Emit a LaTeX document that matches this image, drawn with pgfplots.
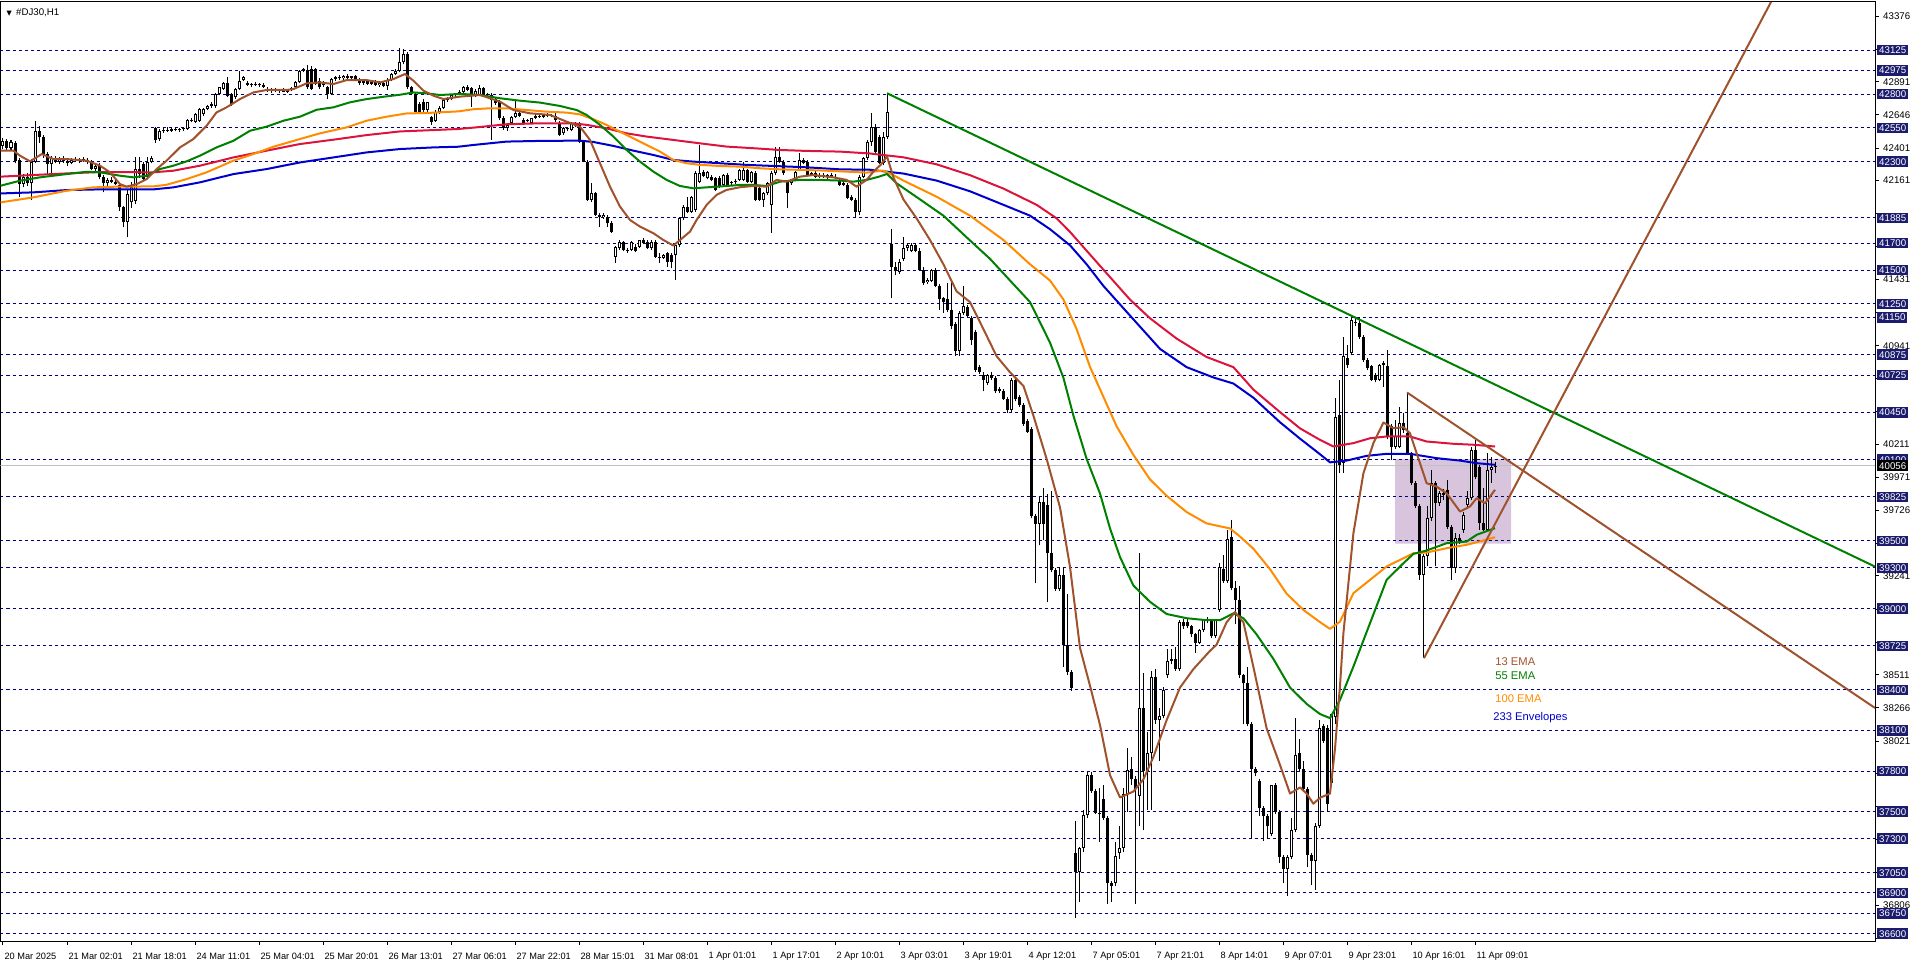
\documentclass[border=0pt]{standalone}
\usepackage{pgfplots}
\pgfplotsset{compat=1.18}
\usepackage{pgfplotstable}
\usepackage{fontspec}
\setmainfont{Liberation Sans}
\newfontfamily\symfont{DejaVu Sans}
\definecolor{navyline}{HTML}{000080}
\definecolor{navybox}{HTML}{1C1C6E}
\definecolor{emaBrown}{HTML}{A0522D}
\definecolor{emaGreen}{HTML}{008000}
\definecolor{emaOrange}{HTML}{FF8C00}
\definecolor{envRed}{HTML}{DC143C}
\definecolor{envBlue}{HTML}{0000CD}
\definecolor{rectFill}{HTML}{D8C4DC}
\definecolor{priceGray}{HTML}{C0C0C0}
\tikzset{boxlab/.style={anchor=west, xshift=1pt, fill=navybox, text=white, font=\fontsize{4.85}{5.5}\selectfont, inner xsep=0.9pt, inner ysep=0.9pt, text height=3.5pt, text depth=0pt}}
\pgfplotsset{candlebar/.style={only marks, mark=*, mark size=0pt, mark options={draw=none, fill=none}, forget plot}}

\pgfplotstableread{
i o h l c
0 42420 42475 42395 42455
1 42455 42470 42380 42400
2 42400 42460 42390 42445
3 42440 42450 42290 42308
4 42310 42330 42037 42135
5 42135 42210 42110 42190
6 42190 42220 42120 42140
7 42140 42320 42020 42300
8 42300 42603 42290 42530
9 42530 42566 42440 42480
10 42480 42500 42330 42357
11 42357 42370 42209 42283
12 42283 42345 42190 42330
13 42330 42345 42290 42300
14 42300 42335 42280 42320
15 42320 42340 42290 42305
16 42305 42330 42270 42290
17 42290 42325 42280 42315
18 42315 42335 42295 42310
19 42310 42330 42290 42320
20 42320 42335 42300 42310
21 42310 42330 42280 42295
22 42295 42310 42240 42246
23 42246 42290 42230 42270
24 42270 42290 42170 42185
25 42185 42200 42074 42140
26 42140 42180 42120 42165
27 42165 42185 42140 42150
28 42150 42175 42130 42135
29 42130 42140 41940 41963
30 41963 41975 41815 41852
31 41852 42090 41742 42062
32 42000 42150 41960 42111
33 42012 42332 41990 42246
34 42250 42332 42180 42210
35 42283 42300 42160 42172
36 42185 42332 42170 42295
37 42300 42345 42290 42330
38 42549 42560 42440 42463
39 42468 42540 42455 42524
40 42524 42550 42515 42535
41 42535 42555 42520 42530
42 42530 42550 42520 42542
43 42542 42555 42525 42535
44 42535 42550 42520 42540
45 42540 42560 42530 42545
46 42542 42615 42535 42608
47 42608 42625 42590 42600
48 42595 42660 42585 42652
49 42603 42700 42595 42690
50 42652 42700 42640 42689
51 42690 42720 42680 42714
52 42714 42740 42700 42726
53 42714 42805 42700 42800
54 42800 42855 42790 42849
55 42837 42890 42830 42881
56 42881 42923 42780 42788
57 42800 42810 42715 42726
58 42775 42845 42765 42837
59 42837 42967 42830 42899
60 42903 42930 42895 42923
61 42880 42895 42860 42870
62 42870 42885 42855 42875
63 42875 42890 42860 42865
64 42865 42885 42850 42870
65 42870 42880 42845 42855
66 42835 42850 42815 42825
67 42825 42845 42810 42830
68 42830 42845 42815 42820
69 42820 42840 42805 42830
70 42830 42845 42812 42818
71 42818 42840 42808 42830
72 42830 42850 42820 42845
73 42849 42895 42840 42886
74 42886 42975 42880 42967
75 42972 42995 42960 42985
76 42977 43017 42840 42849
77 42985 43005 42830 42837
78 42985 42995 42865 42874
79 42900 42915 42840 42849
80 42880 42895 42855 42870
81 42849 42860 42763 42800
82 42800 42915 42790 42910
83 42910 42935 42900 42925
84 42925 42940 42905 42915
85 42915 42940 42905 42935
86 42935 42945 42910 42920
87 42920 42935 42905 42930
88 42930 42940 42895 42905
89 42905 42915 42870 42880
90 42880 42905 42870 42895
91 42895 42905 42870 42875
92 42875 42900 42865 42890
93 42890 42905 42860 42870
94 42870 42895 42855 42885
95 42885 42900 42850 42860
96 42860 42915 42830 42905
97 42905 42955 42895 42948
98 42948 42985 42940 42972
99 42972 43140 42960 43034
100 43034 43132 43020 43095
101 43095 43110 42840 42849
102 42849 42860 42790 42800
103 42800 42810 42650 42665
104 42726 42740 42650 42665
105 42740 42760 42660 42680
106 42680 42745 42670 42740
107 42628 42640 42574 42591
108 42603 42680 42595 42665
109 42665 42710 42650 42700
110 42700 42760 42690 42756
111 42756 42780 42740 42765
112 42765 42800 42755 42790
113 42790 42810 42770 42800
114 42800 42830 42790 42818
115 42818 42862 42805 42855
116 42855 42867 42820 42830
117 42842 42850 42707 42793
118 42793 42835 42780 42825
119 42793 42867 42785 42842
120 42842 42850 42785 42793
121 42793 42810 42770 42800
122 42793 42805 42461 42756
123 42760 42775 42720 42735
124 42744 42755 42610 42621
125 42621 42635 42535 42547
126 42547 42580 42530 42572
127 42584 42640 42575 42633
128 42633 42756 42625 42658
129 42658 42670 42630 42640
130 42609 42620 42575 42584
131 42600 42615 42590 42608
132 42584 42625 42578 42621
133 42625 42650 42615 42640
134 42640 42655 42625 42630
135 42630 42650 42620 42645
136 42645 42660 42630 42640
137 42640 42655 42628 42635
138 42635 42660 42596 42610
139 42584 42600 42490 42498
140 42510 42555 42500 42547
141 42547 42560 42530 42540
142 42535 42590 42530 42584
143 42584 42595 42555 42565
144 42572 42590 42440 42449
145 42449 42460 42295 42301
146 42301 42310 42010 42018
147 42018 42141 42005 42067
148 42067 42075 41900 41907
149 41907 41925 41821 41895
150 41895 41920 41880 41910
151 41895 41905 41821 41846
152 41846 41860 41775 41784
153 41599 41680 41555 41673
154 41661 41720 41650 41710
155 41705 41715 41640 41649
156 41649 41665 41625 41640
157 41649 41715 41640 41710
158 41673 41690 41630 41640
159 41673 41725 41665 41722
160 41722 41735 41690 41700
161 41710 41720 41655 41661
162 41661 41720 41650 41710
163 41710 41720 41590 41599
164 41600 41625 41555 41590
165 41590 41620 41580 41610
166 41624 41635 41525 41562
167 41612 41625 41513 41562
168 41612 41690 41427 41685
169 41685 41890 41670 41882
170 41882 41980 41870 41969
171 41969 42043 41920 41932
172 41932 42050 41925 42043
173 41944 42230 41930 42215
174 42153 42424 42140 42215
175 42227 42240 42185 42195
176 42178 42235 42170 42227
177 42190 42205 42155 42166
178 42178 42190 42085 42092
179 42178 42195 42105 42116
180 42129 42210 42120 42202
181 42202 42215 42120 42129
182 42140 42160 42120 42150
183 42150 42175 42135 42160
184 42166 42245 42155 42239
185 42166 42301 42155 42239
186 42239 42250 42145 42153
187 42153 42235 42140 42227
188 42215 42230 42010 42018
189 42104 42115 42010 42018
190 42018 42075 41969 42067
191 42067 42150 42055 42141
192 41981 42230 41777 42215
193 42215 42412 42200 42338
194 42338 42412 42290 42301
195 42301 42315 42205 42215
196 42153 42165 41956 42067
197 42141 42175 42130 42166
198 42166 42235 42155 42227
199 42239 42362 42230 42313
200 42313 42325 42280 42289
201 42301 42310 42195 42202
202 42202 42225 42195 42215
203 42215 42230 42180 42190
204 42190 42215 42180 42205
205 42205 42220 42180 42185
206 42185 42210 42175 42200
207 42200 42215 42180 42190
208 42190 42210 42175 42180
209 42166 42180 42120 42129
210 42141 42155 42120 42129
211 42129 42140 42025 42030
212 42043 42055 42010 42018
213 42018 42030 41882 41932
214 41932 42200 41905 42190
215 42190 42335 42180 42326
216 42326 42460 42315 42449
217 42449 42658 42420 42559
218 42559 42580 42360 42375
219 42486 42500 42280 42289
220 42289 42520 42275 42486
221 42486 42806 42470 42670
222 41691 41802 41291 41523
223 41523 41560 41460 41490
224 41483 41580 41470 41563
225 41583 41742 41570 41663
226 41663 41700 41640 41683
227 41643 41700 41630 41683
228 41683 41700 41630 41643
229 41643 41660 41490 41503
230 41503 41520 41390 41403
231 41415 41440 41400 41430
232 41423 41510 41410 41503
233 41503 41515 41375 41383
234 41383 41395 41204 41283
235 41291 41300 41184 41263
236 41283 41403 41190 41204
237 41204 41423 41064 41084
238 41104 41115 40864 40904
239 40904 41200 40864 41184
240 41184 41383 41170 41232
241 41224 41240 41150 41164
242 41144 41160 40944 40984
243 41044 41060 40745 40765
244 40785 40800 40735 40745
245 40725 40745 40605 40685
246 40665 40735 40650 40725
247 40725 40745 40690 40705
248 40705 40715 40595 40605
249 40625 40640 40590 40605
250 40605 40620 40540 40545
251 40545 40560 40445 40465
252 40465 40700 40450 40685
253 40685 40700 40530 40545
254 40565 40580 40490 40505
255 40505 40520 40350 40366
256 40386 40400 40300 40306
257 40326 40340 39667 39687
258 39687 39700 39188 39627
259 39627 39827 39467 39787
260 39787 39887 39507 39627
261 39767 39847 39048 39408
262 39408 39867 39270 39288
263 39288 39300 39130 39148
264 39148 39308 39130 39248
265 39248 39308 38570 38729
266 38729 39108 38510 38530
267 38530 38545 38390 38410
268 37193 37432 36714 37053
269 37053 37240 36834 37233
270 37233 37512 37200 37472
271 37472 37791 37450 37771
272 37771 37791 37640 37652
273 37652 37665 37480 37492
274 37492 37672 37273 37480
275 37592 37694 37440 37452
276 37452 37465 36820 36973
277 36973 36990 36834 36953
278 36973 37273 36950 37173
279 37193 37392 37150 37233
280 37233 37672 37200 37632
281 37632 37971 37500 37811
282 37814 37905 37700 37739
283 37739 37760 36820 37664
284 37619 39412 37392 38266
285 38266 38523 37362 37799
286 37799 38086 37513 37935
287 37935 38538 37513 38492
288 38492 38553 38150 38176
289 38176 38266 37875 38206
290 38206 38420 38190 38402
291 38507 38703 38490 38613
292 38613 38703 38590 38628
293 38628 38718 38540 38553
294 38553 38915 38540 38899
295 38899 38920 38850 38869
296 38899 38925 38855 38869
297 38869 38880 38790 38809
298 38809 38820 38673 38749
299 38749 38850 38740 38839
300 38839 38925 38830 38914
301 38914 38935 38890 38925
302 38914 38925 38780 38794
303 38794 38920 38780 38914
304 38990 39336 38975 39306
305 39291 39397 39190 39201
306 39201 39577 39190 39517
307 39532 39653 39140 39155
308 39155 39201 38884 39065
309 39065 39170 38490 38507
310 38507 38520 38146 38447
311 38447 38568 38130 38146
312 38146 38160 37302 37814
313 37814 37830 37760 37784
314 37724 37740 37468 37528
315 37528 37545 37287 37468
316 37468 37480 37302 37392
317 37332 37694 37320 37694
318 37694 37710 37480 37498
319 37498 37510 37121 37166
320 37166 37180 36971 37076
321 37076 37180 36880 37166
322 37166 37453 37150 37362
323 37362 38191 37350 37920
324 37935 38040 37800 37814
325 37814 37875 37650 37664
326 37664 37680 37091 37181
327 37181 37195 36956 37136
328 37136 37420 36925 37392
329 37392 38176 37380 38116
330 38131 38150 38010 38025
331 38116 38140 37500 37558
332 37709 38221 37680 38221
333 38203 40554 38150 40418
334 40431 40689 40000 40061
335 40074 41009 40000 40862
336 40849 40948 40780 40800
337 40886 41145 40870 41132
338 41120 41157 41090 41108
339 41108 41145 40990 41009
340 41009 41020 40820 40837
341 40837 40850 40760 40775
342 40788 40800 40680 40689
343 40726 40740 40670 40689
344 40689 40810 40680 40800
345 40800 40830 40640 40812
346 40788 40911 40250 40271
347 40345 40360 40098 40197
348 40197 40394 40180 40271
349 40197 40492 40185 40369
350 40369 40443 40300 40320
351 40295 40596 40140 40148
352 40148 40160 39910 39926
353 39926 39940 39740 39754
354 39754 39770 39212 39249
355 39249 39400 38634 39385
356 39385 39754 39311 39668
357 39668 40025 39650 39926
358 39926 39940 39311 39778
359 39778 39870 39760 39852
360 39852 39880 39800 39840
361 39877 39950 39590 39606
362 39606 39620 39212 39298
363 39298 39557 39262 39520
364 39520 39550 39480 39495
365 39581 39710 39560 39692
366 39766 39865 39750 39815
367 39815 40197 39800 40172
368 40172 40246 39960 39975
369 40049 40060 39582 39631
370 39631 39890 39570 39582
371 39582 40148 39570 40025
372 40025 40123 39930 40049
373 40049 40086 40000 40056
}\candles

\begin{document}
\begin{tikzpicture}
\useasboundingbox (0,0) rectangle (958pt,481.5pt);
\begin{axis}[
  at={(0.25pt,11pt)}, anchor=south west,
  scale only axis, width=937.25pt, height=469.5pt,
  xmin=-0.625, xmax=468, ymin=36545, ymax=43480,
  clip mode=individual,
  axis line style={black, line width=0.5pt},
  tick align=outside, major tick length=2pt,
  tick style={black, line width=0.5pt},
  xtick pos=bottom, ytick pos=right, yticklabel pos=right,
  scaled y ticks=false, scaled x ticks=false,
  xtick={0,16,...,368},
  xticklabels={20 Mar 2025,21 Mar 02:01,21 Mar 18:01,24 Mar 11:01,25 Mar 04:01,25 Mar 20:01,26 Mar 13:01,27 Mar 06:01,27 Mar 22:01,28 Mar 15:01,31 Mar 08:01,1 Apr 01:01,1 Apr 17:01,2 Apr 10:01,3 Apr 03:01,3 Apr 19:01,4 Apr 12:01,7 Apr 05:01,7 Apr 21:01,8 Apr 14:01,9 Apr 07:01,9 Apr 23:01,10 Apr 16:01,11 Apr 09:01},
  x tick label style={font=\fontsize{4.6}{5.5}\selectfont, anchor=west, inner sep=0pt, xshift=0.6pt, yshift=-5.5pt},
  ytick={36561,36806,37051,37291,37536,37781,38021,38266,38511,38751,38996,39241,39481,39726,39971,40211,40456,40701,40941,41186,41431,41671,41916,42161,42401,42646,42891,43131,43376},
  yticklabels={,36806,,,,,38021,38266,38511,,,39241,,39726,39971,40211,,,40941,,41431,,,42161,42401,42646,42891,,43376},
  y tick label style={font=\fontsize{4.85}{5.5}\selectfont, anchor=west, inner sep=0pt, xshift=1.9pt},
]
% analysis rectangle
\addplot[fill=rectFill, draw=none, forget plot] coordinates {(348,39480) (377,39480) (377,40103) (348,40103) (348,39480)};
% current price line
\addplot[priceGray, line width=0.5pt, forget plot] coordinates {(-0.625,40056) (468,40056)};
% horizontal levels
\pgfplotsinvokeforeach{43125,42975,42800,42550,42300,41885,41700,41500,41250,41150,40875,40725,40450,40100,39825,39500,39300,39000,38725,38400,38100,37800,37500,37300,37050,36900,36750,36600}{
  \addplot[navyline, line width=0.5pt, dash pattern=on 1.5pt off 1.5pt, forget plot] coordinates {(-0.625,#1) (468,#1)};
}
% candles: wicks
\addplot[candlebar,
  error bars/.cd, y dir=plus, y explicit, error mark=none,
  error bar style={line width=0.5pt, black}]
  table[x=i, y=l, y error expr=\thisrow{h}-\thisrow{l}] {\candles};
% candles: bodies
\addplot[candlebar,
  error bars/.cd, y dir=plus, y explicit, error mark=none,
  error bar style={line width=1.5pt, black}]
  table[x=i, y expr={min(\thisrow{o},\thisrow{c})}, y error expr={max(abs(\thisrow{c}-\thisrow{o}),7)}] {\candles};
% candles: bullish inner white
\addplot[candlebar, restrict y to domain=30000:50000,
  error bars/.cd, y dir=plus, y explicit, error mark=none,
  error bar style={line width=0.5pt, white}]
  table[x=i, y expr={(\thisrow{c}-\thisrow{o}>15) ? (\thisrow{o}+7.4) : 0}, y error expr={\thisrow{c}-\thisrow{o}-14.8}] {\candles};
% 233 envelopes
\addplot[envRed, line width=1pt, line join=round] coordinates {(-0.6,42190) (7.6,42202) (15.9,42214) (24.25,42224) (37.6,42222) (42.6,42234) (49.25,42271) (57.6,42332) (65.9,42382) (74.25,42431) (82.6,42463) (90.9,42497) (99.25,42524) (107.6,42534) (113.8,42542) (117.6,42552) (125.9,42577) (134.25,42584) (142.6,42584) (146,42572) (150.9,42547) (155.9,42510) (160.9,42486) (167.6,42461) (174.25,42436) (180.9,42412) (187.6,42400) (194.25,42387) (200.9,42380) (209.25,42375) (216.75,42361) (225.1,42333) (233.4,42281) (241.75,42201) (250.1,42102) (258.4,41982) (263.4,41882) (266.75,41782) (270.9,41643) (275.1,41503) (281.75,41282) (286.75,41144) (293.4,40994) (300.9,40858) (307.6,40783) (312.6,40617) (319.25,40451) (324.25,40331) (329.25,40246) (332.6,40197) (337.6,40222) (341.75,40258) (345.9,40271) (351.75,40271) (355.9,40234) (362.6,40217) (367.6,40210) (373,40197)};
\addplot[envBlue, line width=1pt, line join=round] coordinates {(-0.6,42066) (7.6,42074) (15.9,42091) (24.25,42096) (37.6,42096) (42.6,42111) (49.25,42148) (57.6,42209) (65.9,42246) (74.25,42295) (82.6,42332) (90.9,42369) (99.25,42394) (107.6,42406) (113.8,42411) (117.6,42424) (125.9,42449) (134.25,42454) (144.25,42456) (147.6,42446) (152.6,42417) (157.6,42382) (162.6,42350) (167.6,42313) (172.6,42301) (179.25,42289) (185.9,42277) (192.6,42269) (200.9,42259) (209.25,42244) (216.75,42241) (225.1,42213) (233.4,42161) (241.75,42082) (250.1,41982) (256.75,41902) (261.75,41802) (266.75,41683) (270.9,41543) (275.1,41383) (281.75,41164) (289.25,40918) (295.9,40783) (302.6,40707) (307.6,40662) (312.6,40557) (319.25,40376) (324.25,40255) (329.25,40140) (331.75,40080) (335.9,40093) (340.9,40128) (345.9,40143) (351.75,40143) (358.4,40111) (364.25,40093) (368.4,40074) (373,40062)};
% 100 EMA
\addplot[emaOrange, line width=1pt, line join=round] coordinates {(-0.6,42000) (7.6,42037) (15.9,42086) (22.6,42111) (28.4,42116) (37.6,42118) (40.9,42130) (45.9,42172) (50.9,42222) (57.6,42308) (62.6,42357) (67.6,42411) (74.25,42468) (79.25,42510) (85.9,42554) (90.9,42603) (95.9,42633) (100.9,42657) (105.9,42660) (113.8,42672) (117.6,42688) (121.75,42695) (125.9,42695) (130.9,42682) (135.9,42670) (140.9,42663) (144.25,42650) (147.6,42614) (150.9,42572) (154.25,42522) (157.6,42473) (160.9,42424) (164.25,42375) (167.6,42313) (170.9,42289) (174.25,42277) (179.25,42269) (184.25,42264) (189.25,42252) (194.25,42244) (200.9,42239) (205.9,42234) (210.9,42227) (215.9,42220) (220,42235) (222.6,42201) (225.1,42161) (233.4,42042) (241.75,41902) (250.1,41722) (256.75,41543) (261.75,41423) (265.1,41283) (268.4,41064) (271.75,40785) (274.25,40620) (278.4,40346) (282.6,40135) (286.75,39954) (290.9,39833) (295.9,39713) (300.9,39629) (306.75,39592) (309.25,39532) (312.6,39442) (316.75,39291) (320.9,39110) (325.1,38990) (329.25,38900) (331.75,38850) (334.25,38904) (337.6,39114) (341.75,39212) (345.9,39311) (350.1,39372) (352.6,39409) (355.9,39414) (360.9,39446) (365.9,39471) (370.1,39503) (373,39527)};
% 55 EMA
\addplot[emaGreen, line width=1pt, line join=round] coordinates {(-0.6,42123) (4.25,42160) (9.25,42185) (15.9,42209) (20.9,42226) (24.25,42222) (29.25,42197) (32.6,42185) (35.9,42197) (39.25,42246) (42.6,42271) (45.9,42303) (49.25,42345) (53.4,42406) (57.6,42455) (61.75,42529) (65.9,42559) (70.1,42603) (74.25,42633) (78.4,42684) (82.6,42702) (86.75,42739) (90.9,42763) (95.1,42780) (99.25,42795) (102.6,42812) (105.9,42805) (109.25,42793) (114.25,42801) (119.25,42793) (124.25,42769) (129.25,42751) (134.25,42737) (139.25,42712) (143.4,42682) (145.9,42646) (149.25,42572) (152.6,42486) (155.9,42387) (159.25,42301) (162.6,42227) (165.9,42166) (169.25,42121) (172.6,42104) (175.9,42111) (180.9,42121) (184.25,42129) (187.6,42129) (190.9,42121) (194.25,42153) (199.25,42166) (204.25,42166) (209.25,42161) (212.6,42153) (215.9,42166) (219,42190) (221,42210) (223.4,42141) (229.25,42022) (235.1,41902) (240.9,41742) (246.75,41583) (251.75,41423) (256.75,41264) (261.75,40964) (265.1,40705) (267.6,40425) (270.9,40106) (274.25,39850) (276.75,39592) (279.25,39381) (282.6,39170) (286.75,39050) (290.9,38960) (295.9,38929) (300.9,38914) (304.25,38914) (307.6,38965) (310.1,38929) (313.4,38809) (317.6,38628) (321.75,38417) (325.9,38296) (329.25,38221) (331.75,38191) (334.25,38326) (337.6,38572) (341.75,38892) (345.9,39212) (350.1,39335) (352.6,39404) (355.9,39429) (360.9,39483) (365.9,39495) (368.4,39545) (373,39594)};
% 13 EMA
\addplot[emaBrown, line width=1pt, line join=round] coordinates {(-0.6,42382) (2.6,42382) (4.25,42345) (6.75,42303) (9.7,42357) (12.6,42320) (15.9,42320) (20.9,42308) (24.25,42271) (26.75,42222) (29.25,42135) (30.9,42116) (33.4,42135) (35.9,42172) (38.4,42246) (40.9,42308) (44.25,42406) (47.6,42468) (50.9,42566) (53.4,42665) (55.9,42702) (59.25,42763) (62.6,42812) (65.9,42830) (70.9,42830) (72.6,42837) (75.9,42879) (79.25,42886) (82.6,42874) (85.9,42903) (90.9,42903) (94.25,42886) (97.6,42911) (100.5,42948) (102.6,42899) (105.1,42825) (107.6,42788) (110.1,42763) (114.25,42781) (119.25,42793) (124.25,42744) (127.6,42682) (131.75,42658) (136.75,42646) (140.9,42596) (144.25,42559) (146.75,42461) (149.25,42289) (151.75,42116) (154.25,41969) (156.75,41870) (159.25,41821) (162.6,41772) (165.1,41722) (167.6,41681) (169.25,41722) (171.75,41784) (173.4,41870) (175.9,41981) (178.4,42055) (180.9,42092) (184.25,42112) (187.6,42121) (190.9,42116) (193.4,42166) (195.9,42153) (199.25,42190) (202.6,42202) (207.6,42185) (210.9,42166) (213.4,42116) (215.9,42166) (217.6,42227) (219.5,42280) (221,42340) (222.6,42185) (225.1,42022) (228.4,41882) (231.75,41722) (235.1,41543) (238.4,41343) (241.75,41264) (245.1,41064) (248.4,40864) (251.75,40745) (255.1,40645) (257.6,40425) (260.9,40106) (264.25,39747) (266.75,39308) (269.25,38709) (271.75,38430) (274.25,38140) (276.75,37770) (279.25,37605) (282.6,37649) (285.1,37739) (287.6,37905) (290.9,38176) (294.25,38417) (297.6,38553) (301.75,38688) (303.4,38734) (305.9,38899) (308,38974) (310.1,38899) (312.6,38568) (315.9,38116) (319.25,37845) (321.75,37634) (324.25,37679) (325.9,37634) (327.6,37559) (329.25,37603) (331.75,37634) (333,37965) (334.25,38432) (335.1,38818) (337.6,39557) (340.1,40000) (342.6,40222) (345.1,40374) (347.6,40332) (350.1,40340) (351.75,40295) (353.4,40148) (355.9,39926) (358.4,39901) (360.9,39852) (364.25,39717) (366.75,39754) (368.4,39815) (370.5,39778) (373,39877)};
% trend lines
\addplot[emaGreen, line width=1pt] coordinates {(221,42806) (468,39310)};
\addplot[emaBrown, line width=1pt] coordinates {(351,40596) (468,38266)};
\addplot[emaBrown, line width=1pt] coordinates {(355.25,38634) (442,43480)};
% indicator labels
\node[anchor=west, inner sep=0pt, font=\fontsize{5.6}{6}\selectfont, text=emaBrown] at (axis cs:373,38606) {13 EMA};
\node[anchor=west, inner sep=0pt, font=\fontsize{5.6}{6}\selectfont, text=emaGreen] at (axis cs:373,38503) {55 EMA};
\node[anchor=west, inner sep=0pt, font=\fontsize{5.6}{6}\selectfont, text=emaOrange] at (axis cs:373,38333) {100 EMA};
\node[anchor=west, inner sep=0pt, font=\fontsize{5.6}{6}\selectfont, text=envBlue] at (axis cs:372.5,38193) {233 Envelopes};
% title
\node[anchor=west, inner sep=0pt] at ([xshift=2.8pt,yshift=-5.4pt]rel axis cs:0,1) {{\symfont\fontsize{3.4}{4}\selectfont ▼}\hspace{2.2pt}{\fontsize{4.85}{5.5}\selectfont\#DJ30,H1}};
% boxed price labels
\pgfplotsinvokeforeach{43125,42975,42800,42550,42300,41885,41700,41500,41250,41150,40875,40725,40450,40100,39825,39500,39300,39000,38725,38400,38100,37800,37500,37300,37050,36900,36750,36600}{
  \node[boxlab] at (axis cs:468,#1) {#1};
}
\node[boxlab, fill=black] at (axis cs:468,40056) {40056};
\end{axis}
\end{tikzpicture}
\end{document}
